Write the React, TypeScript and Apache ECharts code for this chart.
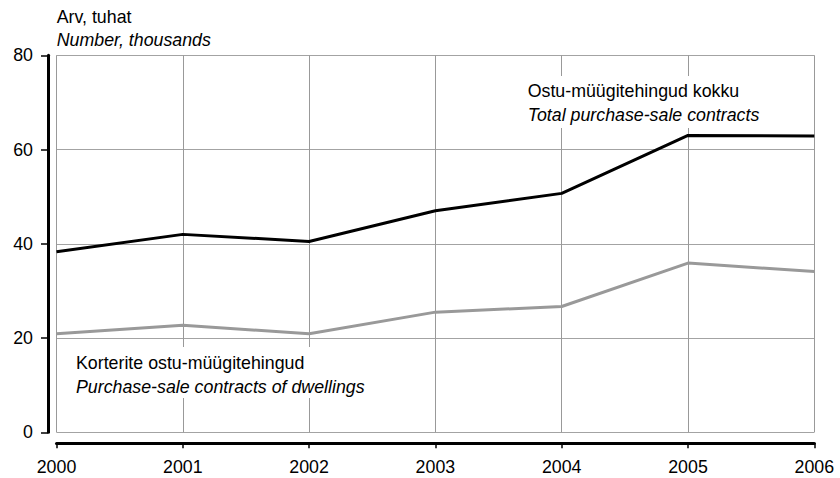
import React, { useEffect, useRef } from "react";
import * as echarts from "echarts";

const years = ["2000", "2001", "2002", "2003", "2004", "2005", "2006"];
const totalContracts = [38.3, 42.0, 40.5, 47.0, 50.7, 63.0, 62.9];
const dwellingContracts = [20.9, 22.7, 20.9, 25.5, 26.7, 35.9, 34.1];
const yTicks = { min: 0, max: 80, interval: 20 };

const FONT = "'Liberation Sans', Arial, sans-serif";
const FS = 17.8;

export default function App() {
  const ref = useRef<HTMLDivElement>(null);
  useEffect(() => {
    if (!ref.current) return;
    const chart = echarts.init(ref.current, null, { renderer: "svg" });
    chart.setOption({
      animation: false,
      backgroundColor: "#ffffff",
      textStyle: { fontFamily: FONT },
      grid: { left: 56.5, right: 25.7, top: 55.3, bottom: 45.7, containLabel: false },
      xAxis: {
        type: "category",
        data: years,
        boundaryGap: false,
        offset: 10.5,
        axisLine: { show: true, onZero: false, lineStyle: { color: "#000", width: 3 } },
        axisTick: { show: true, length: 5.5, lineStyle: { color: "#000", width: 1.5 } },
        axisLabel: { color: "#000", fontSize: FS, fontFamily: FONT, margin: 15 },
        splitLine: { show: true, lineStyle: { color: "#999999", width: 1 } },
      },
      yAxis: {
        type: "value",
        min: yTicks.min,
        max: yTicks.max,
        interval: yTicks.interval,
        offset: 8.5,
        axisLine: { show: true, onZero: false, lineStyle: { color: "#000", width: 3 } },
        axisTick: { show: true, length: 7, lineStyle: { color: "#000", width: 1.5 } },
        axisLabel: { color: "#000", fontSize: FS, fontFamily: FONT, margin: 15 },
        splitLine: { show: true, lineStyle: { color: "#a3a3a3", width: 1.2 } },
      },
      graphic: [
        { type: "rect", z: 1, shape: { x: 520, y: 76, width: 252, height: 52 }, style: { fill: "#fff" } },
        { type: "rect", z: 1, shape: { x: 68, y: 347, width: 280, height: 51 }, style: { fill: "#fff" } },
        { type: "text", z: 3, x: 56.7, y: 16.5, style: { text: "Arv, tuhat", fill: "#000", font: `${FS}px ${FONT}`, verticalAlign: "middle" } },
        { type: "text", z: 3, x: 56.7, y: 39.8, style: { text: "Number, thousands", fill: "#000", font: `italic ${FS}px ${FONT}`, verticalAlign: "middle" } },
        { type: "text", z: 3, x: 527.7, y: 91.2, style: { text: "Ostu-müügitehingud kokku", fill: "#000", font: `${FS}px ${FONT}`, verticalAlign: "middle" } },
        { type: "text", z: 3, x: 527.7, y: 114.5, style: { text: "Total purchase-sale contracts", fill: "#000", font: `italic ${FS}px ${FONT}`, verticalAlign: "middle" } },
        { type: "text", z: 3, x: 76, y: 363, style: { text: "Korterite ostu-müügitehingud", fill: "#000", font: `${FS}px ${FONT}`, verticalAlign: "middle" } },
        { type: "text", z: 3, x: 76, y: 387, style: { text: "Purchase-sale contracts of dwellings", fill: "#000", font: `italic ${FS}px ${FONT}`, verticalAlign: "middle" } },
      ],
      series: [
        {
          name: "Total purchase-sale contracts",
          type: "line",
          data: totalContracts,
          symbol: "none",
          lineStyle: { color: "#000000", width: 3 },
          z: 4,
        },
        {
          name: "Purchase-sale contracts of dwellings",
          type: "line",
          data: dwellingContracts,
          symbol: "none",
          lineStyle: { color: "#999999", width: 3 },
          z: 4,
        },
      ],
    });
    return () => chart.dispose();
  }, []);
  return (
    <div
      ref={ref}
      style={{ position: "absolute", left: 0, top: 0, width: 840, height: 478 }}
    />
  );
}
